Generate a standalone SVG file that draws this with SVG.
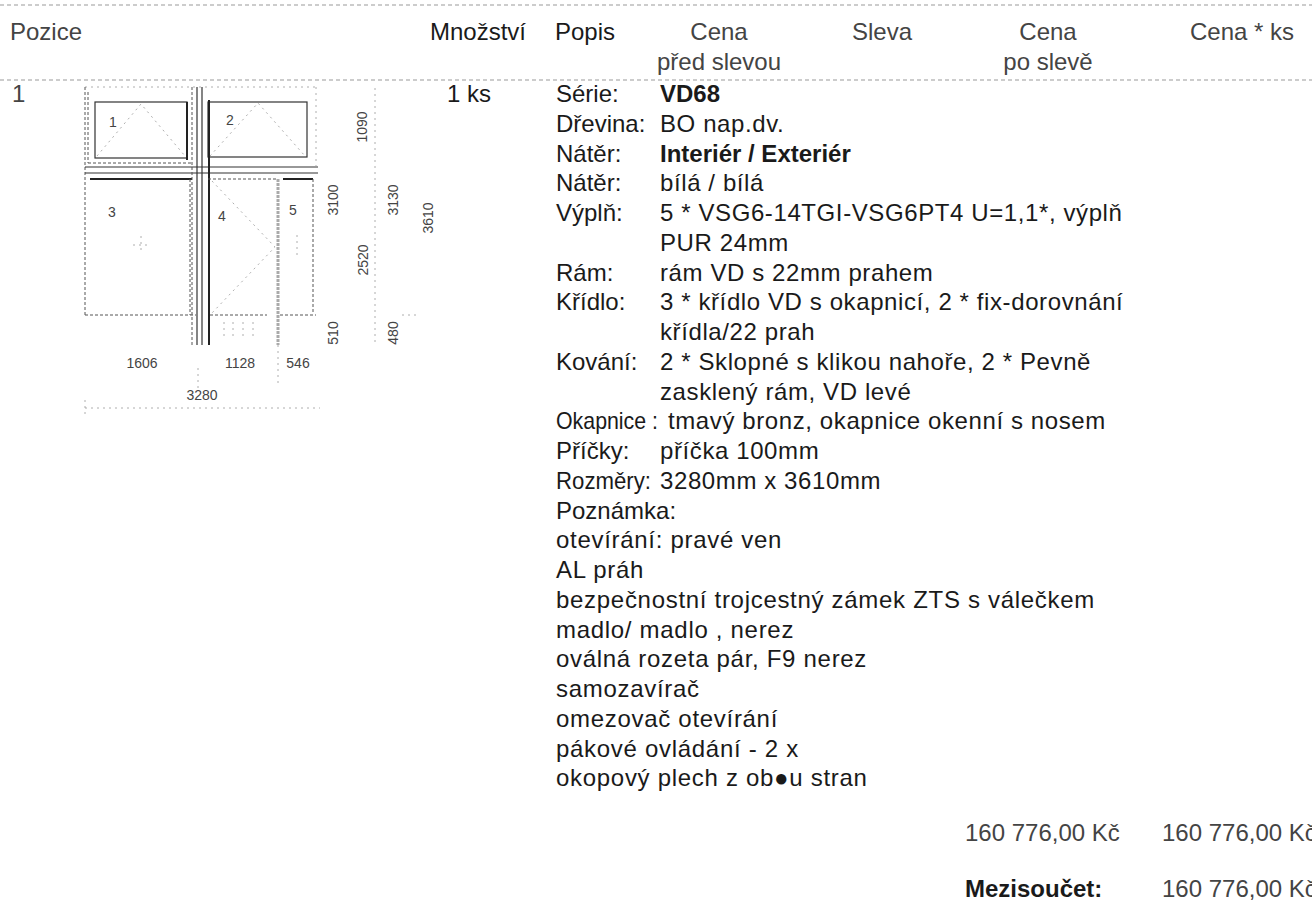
<svg xmlns="http://www.w3.org/2000/svg" width="1312" height="909" viewBox="0 0 1312 909">
<defs>
<style>
.t{font-family:"Liberation Sans",Arial,sans-serif;font-size:24px;fill:#1a1a1a}
.v{letter-spacing:0.6px}
.n{letter-spacing:0.7px}
.l{fill:#444}
.b{font-weight:bold}
.d{font-family:"Liberation Sans",Arial,sans-serif;font-size:14px;fill:#444}
.rule{stroke:#9a9a9a;stroke-width:1.2;stroke-dasharray:4 3;fill:none}
.fr{stroke:#333;stroke-width:1.2;fill:none}
.frd{stroke:#555;stroke-width:1;stroke-dasharray:3 2;fill:none}
.thk{stroke:#222;stroke-width:2;fill:none}
.lt{stroke:#999;stroke-width:0.8;stroke-dasharray:2 4;fill:none}
.gry{stroke:#aaa;stroke-width:3;stroke-dasharray:3 1;fill:none}
</style>
</defs>
<rect width="1312" height="909" fill="#fff"/>
<g id="rules">
<line class="rule" x1="0" y1="5" x2="1312" y2="5"/>
<line class="rule" x1="0" y1="80" x2="1312" y2="80"/>
</g>
<g id="header">
<text class="t l" x="10" y="40">Pozice</text>
<text class="t" x="430" y="40">Množství</text>
<text class="t" x="555" y="40">Popis</text>
<text class="t l" x="719" y="40" text-anchor="middle">Cena</text>
<text class="t l" x="719" y="70" text-anchor="middle">před slevou</text>
<text class="t l" x="852" y="40">Sleva</text>
<text class="t l" x="1048" y="40" text-anchor="middle">Cena</text>
<text class="t l" x="1048" y="70" text-anchor="middle">po slevě</text>
<text class="t l" x="1190" y="40">Cena * ks</text>
</g>
<g id="drawing">
<line class="lt" x1="85" y1="87" x2="318" y2="87"/>
<line class="frd" x1="85" y1="87" x2="85" y2="315"/>
<line class="frd" x1="88" y1="92" x2="88" y2="163"/>
<rect class="fr" x="95" y="102" width="92" height="56"/>
<line class="thk" x1="187" y1="102" x2="187" y2="160"/>
<rect class="fr" x="208" y="102" width="99" height="55"/>
<line class="frd" x1="88" y1="163" x2="192" y2="163"/>
<line class="fr" x1="85" y1="167" x2="318" y2="167"/>
<line class="fr" x1="85" y1="173" x2="318" y2="173"/>
<line class="thk" x1="90" y1="179" x2="192" y2="179"/>
<line class="frd" x1="192" y1="87" x2="192" y2="345"/>
<line class="fr" x1="197" y1="87" x2="197" y2="345"/>
<line class="fr" x1="202" y1="87" x2="202" y2="345"/>
<line class="thk" x1="209" y1="100" x2="209" y2="345"/>
<line class="frd" x1="208" y1="179" x2="277" y2="179"/>
<line class="frd" x1="190" y1="179" x2="190" y2="315"/>
<line class="frd" x1="85" y1="315" x2="196" y2="315"/>
<line class="frd" x1="210" y1="315" x2="267" y2="315"/>
<line class="gry" x1="278" y1="179" x2="278" y2="345"/>
<line class="thk" x1="283" y1="179" x2="313" y2="179"/>
<line class="frd" x1="313" y1="179" x2="313" y2="312"/>
<line class="frd" x1="280" y1="315" x2="316" y2="315"/>
<line class="lt" x1="316" y1="87" x2="316" y2="170"/>
<line class="lt" x1="278" y1="345" x2="278" y2="385"/>
<line class="lt" x1="198" y1="368" x2="198" y2="388"/>
<line class="lt" x1="224" y1="322" x2="224" y2="336"/>
<line class="lt" x1="233" y1="322" x2="233" y2="336"/>
<line class="lt" x1="243" y1="322" x2="243" y2="336"/>
<line class="lt" x1="253" y1="322" x2="253" y2="336"/>
<line class="lt" x1="375" y1="88" x2="375" y2="345"/>
<line class="lt" x1="402" y1="315" x2="416" y2="315"/>
<line class="lt" x1="85" y1="408" x2="320" y2="408"/>
<line class="lt" x1="85" y1="400" x2="85" y2="415"/>
<polyline class="lt" points="97,156 141,104 185,156"/>
<polyline class="lt" points="210,156 258,103 305,156"/>
<line class="lt" x1="133" y1="245" x2="150" y2="245"/>
<line class="lt" x1="141" y1="236" x2="141" y2="254"/>
<polyline class="lt" points="212,181 275,247 212,313"/>
<line class="lt" x1="297" y1="235" x2="297" y2="257"/>
<text class="d" x="113" y="127" text-anchor="middle">1</text>
<text class="d" x="230" y="125" text-anchor="middle">2</text>
<text class="d" x="112" y="217" text-anchor="middle">3</text>
<text class="d" x="222" y="221" text-anchor="middle">4</text>
<text class="d" x="293" y="215" text-anchor="middle">5</text>
<text class="d" transform="translate(367,127) rotate(-90)" text-anchor="middle">1090</text>
<text class="d" transform="translate(338,200) rotate(-90)" text-anchor="middle">3100</text>
<text class="d" transform="translate(398,200) rotate(-90)" text-anchor="middle">3130</text>
<text class="d" transform="translate(433,218) rotate(-90)" text-anchor="middle">3610</text>
<text class="d" transform="translate(368,260) rotate(-90)" text-anchor="middle">2520</text>
<text class="d" transform="translate(338,333) rotate(-90)" text-anchor="middle">510</text>
<text class="d" transform="translate(398,333) rotate(-90)" text-anchor="middle">480</text>
<text class="d" x="142" y="368" text-anchor="middle">1606</text>
<text class="d" x="240" y="368" text-anchor="middle">1128</text>
<text class="d" x="298" y="368" text-anchor="middle">546</text>
<text class="d" x="202" y="400" text-anchor="middle">3280</text>
</g>
<g id="row1">
<text class="t l" x="12" y="102">1</text>
<text class="t" x="447" y="102">1 ks</text>
<text class="t" x="556" y="102">Série:</text><text class="t b" x="660" y="102">VD68</text>
<text class="t" x="556" y="132">Dřevina:</text><text class="t v" x="660" y="132">BO nap.dv.</text>
<text class="t" x="556" y="162">Nátěr:</text><text class="t b" x="660" y="162">Interiér / Exteriér</text>
<text class="t" x="556" y="191">Nátěr:</text><text class="t v" x="660" y="191">bílá / bílá</text>
<text class="t" x="556" y="221">Výplň:</text><text class="t v" x="660" y="221">5 * VSG6-14TGI-VSG6PT4 U=1,1*, výplň</text>
<text class="t v" x="660" y="251">PUR 24mm</text>
<text class="t" x="556" y="281">Rám:</text><text class="t v" x="660" y="281">rám VD s 22mm prahem</text>
<text class="t" x="556" y="310">Křídlo:</text><text class="t v" x="660" y="310">3 * křídlo VD s okapnicí, 2 * fix-dorovnání</text>
<text class="t v" x="660" y="340">křídla/22 prah</text>
<text class="t" x="556" y="370">Kování:</text><text class="t v" x="660" y="370">2 * Sklopné s klikou nahoře, 2 * Pevně</text>
<text class="t v" x="660" y="400">zasklený rám, VD levé</text>
<text class="t" x="556" y="429" textLength="102" lengthAdjust="spacingAndGlyphs">Okapnice :</text><text class="t v" x="668" y="429">tmavý bronz, okapnice okenní s nosem</text>
<text class="t" x="556" y="459">Příčky:</text><text class="t v" x="660" y="459">příčka 100mm</text>
<text class="t" x="556" y="489" textLength="95" lengthAdjust="spacingAndGlyphs">Rozměry:</text><text class="t v" x="660" y="489">3280mm x 3610mm</text>
<text class="t" x="556" y="519">Poznámka:</text>
<text class="t n" x="556" y="548">otevírání: pravé ven</text>
<text class="t n" x="556" y="578">AL práh</text>
<text class="t n" x="556" y="608">bezpečnostní trojcestný zámek ZTS s válečkem</text>
<text class="t n" x="556" y="638">madlo/ madlo , nerez</text>
<text class="t n" x="556" y="667">oválná rozeta pár, F9 nerez</text>
<text class="t n" x="556" y="697">samozavírač</text>
<text class="t n" x="556" y="727">omezovač otevírání</text>
<text class="t n" x="556" y="757">pákové ovládání - 2 x</text>
<text class="t n" x="556" y="786">okopový plech z ob●u stran</text>
</g>
<g id="totals">
<text class="t l" x="965" y="841">160 776,00 Kč</text>
<text class="t l" x="1162" y="841">160 776,00 Kč</text>
<text class="t b" x="965" y="897">Mezisoučet:</text>
<text class="t l" x="1162" y="897">160 776,00 Kč</text>
</g>
</svg>
